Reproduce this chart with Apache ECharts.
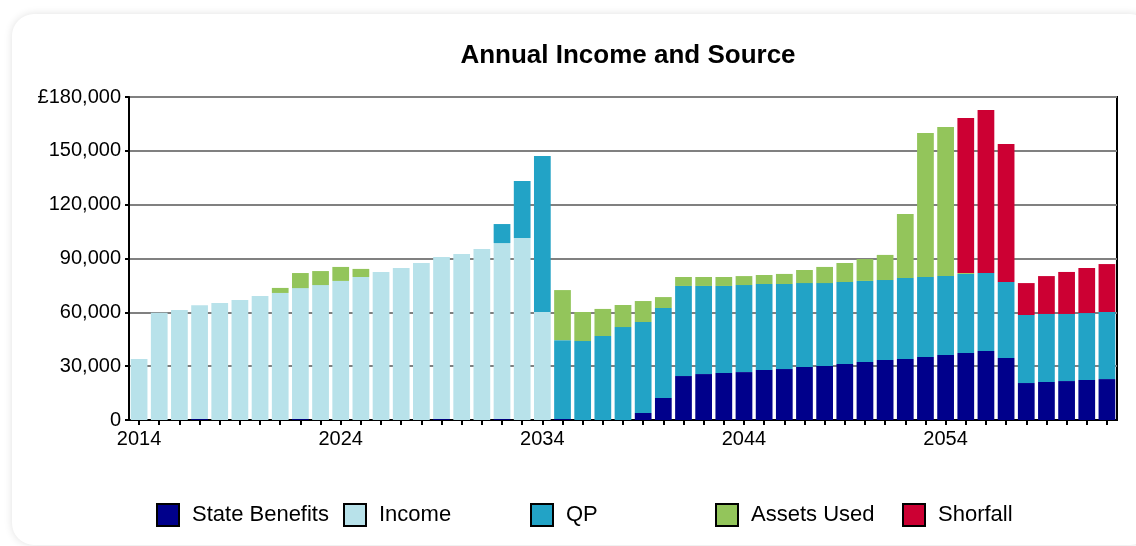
<!DOCTYPE html>
<html>
<head>
<meta charset="utf-8">
<script src="https://cdn.jsdelivr.net/npm/echarts@6/dist/echarts.min.js"></script>
<style>
html,body{margin:0;padding:0;width:1136px;height:546px;background:#fff;overflow:hidden;}
#card{position:absolute;left:12px;top:14px;width:1140px;height:531px;border-radius:22px;background:#fff;box-shadow:0 0 8px rgba(0,0,0,0.12);}
#chart{position:absolute;left:0;top:0;width:1136px;height:546px;}
</style>
</head>
<body>
<div id="card"></div>
<div id="chart"></div>
<script>
const years = [];
for (let y = 2014; y <= 2062; y++) years.push(String(y));

const stateBenefits = [0,0,0,500,0,0,0,0,500,0,0,0,0,0,0,500,0,0,500,0,0,500,0,0,0,
  3900,12300,24500,25600,26200,26700,27900,28400,29500,30100,31200,32300,33400,34000,35100,36200,37300,38500,34600,
  20600,21200,21700,22300,22800];
const income = [34000,59800,61300,63500,65200,66900,69100,70800,73000,75200,77500,79700,82500,84700,87500,90300,92500,95300,98100,101400,60200,
  0,0,0,0,0,0,0,0,0,0,0,0,0,0,0,0,0,0,0,0,0,0,0,0,0,0,0,0];
const qp = [0,0,0,0,0,0,0,0,0,0,0,0,0,0,0,0,0,0,10600,31800,86900,
  44000,44000,46800,51800,50700,50100,50200,49100,48500,48500,47900,47400,46800,46200,45700,45200,44600,45100,44600,44000,44100,43400,42300,
  37900,37900,37400,37300,37400];
const assetsUsed = [0,0,0,0,0,0,0,2800,8400,7800,7800,4500,0,0,0,0,0,0,0,0,0,
  27900,16200,15100,12300,11700,6100,5000,5000,5000,5000,5000,5600,7300,9000,10600,12200,14000,35700,80200,83100,500,0,0,
  0,0,0,0,0];
const shortfall = [0,0,0,0,0,0,0,0,0,0,0,0,0,0,0,0,0,0,0,0,0,
  0,0,0,0,0,0,0,0,0,0,0,0,0,0,0,0,0,0,0,0,86400,90900,76900,
  17800,21100,23400,25100,26700];

const seriesNames = ['State Benefits','Income','QP','Assets Used','Shorfall'];
const seriesColors = ['#00008B','#B8E2EA','#22A3C6','#93C55B','#CC0033'];
const seriesData = [stateBenefits, income, qp, assetsUsed, shortfall];
const legendLeft = [156, 343, 530, 715, 902];

const chart = echarts.init(document.getElementById('chart'));
const fontFam = 'Liberation Sans, Arial, sans-serif';

chart.setOption({
  animation: false,
  backgroundColor: 'transparent',
  title: {
    text: 'Annual Income and Source',
    left: 623, top: 38, textAlign: 'center',
    textStyle: {fontFamily: fontFam, fontSize: 26, fontWeight: 'bold', color: '#000'}
  },
  legend: seriesNames.map((n, i) => ({
    data: [n], left: legendLeft[i], top: 503, padding: 0,
    itemWidth: 22, itemHeight: 22, icon: 'rect',
    itemStyle: {borderColor: '#000', borderWidth: 2},
    textStyle: {fontFamily: fontFam, fontSize: 22, color: '#000', padding: [0,0,0,8]},
    selectedMode: false
  })),
  grid: {left: 129, right: 19, top: 97, bottom: 126, show: true, borderColor: '#000', borderWidth: 2, backgroundColor: 'transparent'},
  xAxis: {
    type: 'category', data: years,
    axisLine: {lineStyle: {color: '#000', width: 2}},
    axisTick: {show: true, alignWithLabel: true, interval: 0, length: 5, lineStyle: {color: '#000', width: 2}},
    axisLabel: {interval: 9, fontFamily: fontFam, fontSize: 20, color: '#000', margin: 9}
  },
  yAxis: {
    type: 'value', min: 0, max: 180000, interval: 30000,
    axisLine: {show: true, lineStyle: {color: '#000', width: 2}},
    axisTick: {show: true, length: 4, lineStyle: {color: '#000', width: 2}},
    splitLine: {lineStyle: {color: '#808080', width: 2}},
    axisLabel: {
      fontFamily: fontFam, fontSize: 20, color: '#000', margin: 8,
      formatter: v => v === 180000 ? '£180,000' : v.toLocaleString('en-GB')
    }
  },
  series: seriesNames.map((n, i) => ({
    name: n, type: 'bar', stack: 'total', data: seriesData[i],
    barCategoryGap: '17%',
    itemStyle: {color: seriesColors[i]}
  }))
});
</script>
</body>
</html>
